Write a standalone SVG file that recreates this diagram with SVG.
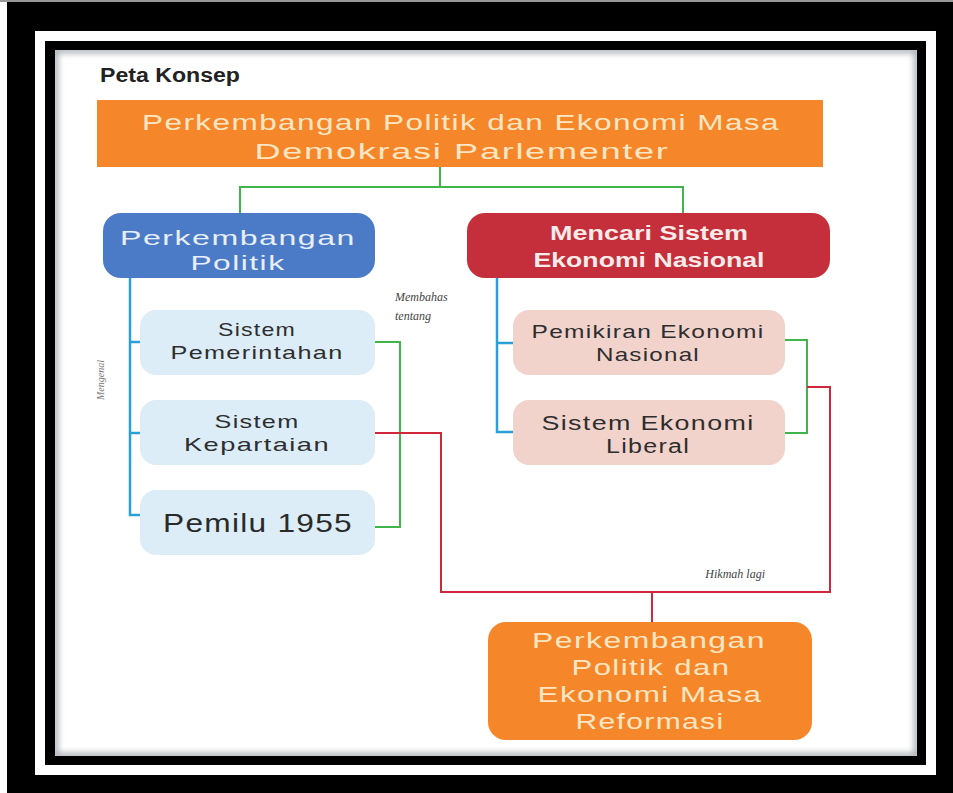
<svg xmlns="http://www.w3.org/2000/svg" width="953" height="793" viewBox="0 0 953 793">
<defs>
<style>
.t{font-family:"Liberation Sans","DejaVu Sans",Arial,sans-serif;text-anchor:middle;letter-spacing:1px;}
.cream{fill:#fde6c4;font-size:22px;}
.dark{fill:#2e2e2e;font-size:19px;}
.lbl{font-family:"Liberation Serif","DejaVu Serif",serif;font-style:italic;font-size:12px;fill:#444;}
.g{stroke:#3fb54a;stroke-width:2;fill:none;}
.b{stroke:#2a9fd8;stroke-width:2.5;fill:none;}
.r{stroke:#d0283a;stroke-width:2;fill:none;}
</style>
<filter id="blur" x="-5%" y="-5%" width="110%" height="110%"><feGaussianBlur stdDeviation="3"/></filter>
<clipPath id="pc"><rect x="55" y="50" width="862" height="706"/></clipPath>
</defs>

<g id="frame">
<rect x="0" y="0" width="953" height="793" fill="#000"/>
<rect x="0" y="0" width="7" height="793" fill="#fff"/>
<rect x="0" y="0" width="953" height="2" fill="#999"/>
<rect x="35" y="31" width="901" height="744" fill="#fff"/>
<rect x="45" y="41" width="881" height="724" fill="#000"/>
<rect x="55" y="50" width="862" height="706" fill="#fff"/>
<rect x="55" y="50" width="862" height="706" fill="none" stroke="#a4aab0" stroke-width="6" filter="url(#blur)" clip-path="url(#pc)"/>
</g>

<text x="100" y="82" style="font-family:'Liberation Sans',Arial,sans-serif;font-weight:bold;font-size:20px;fill:#222" textLength="140" lengthAdjust="spacingAndGlyphs">Peta Konsep</text>

<g id="connectors">
<path class="g" d="M440 167V187M240 213V187H683V213"/>
<path class="b" d="M130 278V515H145M130 342H145M130 433H145"/>
<path class="b" d="M497 278V432H513M497 343H513"/>
<path class="g" d="M375 342H400V527H375"/>
<path class="g" d="M785 340H807V433H785"/>
<path class="r" d="M375 433H441V592H830V387H807"/>
<path class="r" d="M652 592V623"/>
</g>

<g id="labels">
<text class="lbl" x="395" y="301">Membahas</text>
<text class="lbl" x="395" y="320">tentang</text>
<text class="lbl" x="765" y="578" text-anchor="end">Hikmah lagi</text>
<text class="lbl" x="0" y="0" transform="translate(104 380) rotate(-90)" text-anchor="middle" style="font-size:10px;fill:#777">Mengenal</text>
</g>

<g id="n-top">
<rect x="97" y="100" width="726" height="67" fill="#f5872a"/>
<text class="t cream" x="461" y="130" textLength="638" lengthAdjust="spacingAndGlyphs">Perkembangan Politik dan Ekonomi Masa</text>
<text class="t cream" x="462" y="159" textLength="415" lengthAdjust="spacingAndGlyphs">Demokrasi Parlementer</text>
</g>

<g id="n-politik">
<rect x="103" y="213" width="272" height="65" rx="18" fill="#4b7bc6"/>
<text class="t" x="238" y="245" style="fill:#e8eefa;font-size:21px" textLength="236" lengthAdjust="spacingAndGlyphs">Perkembangan</text>
<text class="t" x="238" y="270" style="fill:#e8eefa;font-size:21px" textLength="95" lengthAdjust="spacingAndGlyphs">Politik</text>
</g>

<g id="n-ekonomi">
<rect x="467" y="213" width="363" height="65" rx="18" fill="#c42f3b"/>
<text class="t" x="649" y="240" style="fill:#fbeaea;font-size:20px;font-weight:bold;letter-spacing:0" textLength="198" lengthAdjust="spacingAndGlyphs">Mencari Sistem</text>
<text class="t" x="649" y="267" style="fill:#fbeaea;font-size:20px;font-weight:bold;letter-spacing:0" textLength="231" lengthAdjust="spacingAndGlyphs">Ekonomi Nasional</text>
</g>

<g id="n-pemerintahan">
<rect x="140" y="310" width="235" height="65" rx="16" fill="#dcedf7"/>
<text class="t dark" x="257" y="336" textLength="78" lengthAdjust="spacingAndGlyphs">Sistem</text>
<text class="t dark" x="257" y="359" textLength="173" lengthAdjust="spacingAndGlyphs">Pemerintahan</text>
</g>

<g id="n-kepartaian">
<rect x="140" y="400" width="235" height="65" rx="16" fill="#dcedf7"/>
<text class="t dark" x="257" y="428" textLength="85" lengthAdjust="spacingAndGlyphs">Sistem</text>
<text class="t dark" x="257" y="451" textLength="146" lengthAdjust="spacingAndGlyphs">Kepartaian</text>
</g>

<g id="n-pemilu">
<rect x="140" y="490" width="235" height="65" rx="16" fill="#dcedf7"/>
<text class="t" x="258" y="532" style="fill:#2a2a2a;font-size:25px" textLength="190" lengthAdjust="spacingAndGlyphs">Pemilu 1955</text>
</g>

<g id="n-pemikiran">
<rect x="513" y="310" width="272" height="65" rx="16" fill="#f1d3cc"/>
<text class="t dark" x="648" y="338" textLength="233" lengthAdjust="spacingAndGlyphs">Pemikiran Ekonomi</text>
<text class="t dark" x="648" y="361" textLength="104" lengthAdjust="spacingAndGlyphs">Nasional</text>
</g>

<g id="n-liberal">
<rect x="513" y="400" width="272" height="65" rx="16" fill="#f1d3cc"/>
<text class="t" x="648" y="430" style="fill:#2e2e2e;font-size:20px" textLength="213" lengthAdjust="spacingAndGlyphs">Sistem Ekonomi</text>
<text class="t" x="648" y="453" style="fill:#2e2e2e;font-size:20px" textLength="84" lengthAdjust="spacingAndGlyphs">Liberal</text>
</g>

<g id="n-reformasi">
<rect x="488" y="622" width="324" height="118" rx="18" fill="#f5872a"/>
<text class="t cream" x="649" y="648" textLength="234" lengthAdjust="spacingAndGlyphs">Perkembangan</text>
<text class="t cream" x="651" y="675" textLength="159" lengthAdjust="spacingAndGlyphs">Politik dan</text>
<text class="t cream" x="650" y="702" textLength="225" lengthAdjust="spacingAndGlyphs">Ekonomi Masa</text>
<text class="t cream" x="650" y="729" textLength="149" lengthAdjust="spacingAndGlyphs">Reformasi</text>
</g>
</svg>
